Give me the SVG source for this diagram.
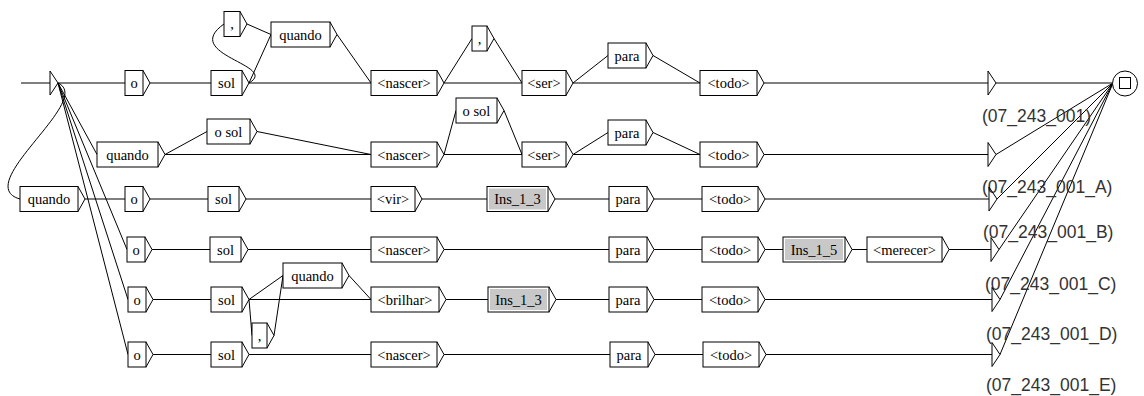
<svg xmlns="http://www.w3.org/2000/svg" width="1144" height="396" viewBox="0 0 1144 396">
<style>
.b rect{fill:#fff;stroke:#000;stroke-width:1}
.b rect.g{fill:#c8c8c8;stroke:none}
.b path,.st path{fill:none;stroke:#000;stroke-width:1}
.b text{font-family:"Liberation Serif",serif;font-size:14.5px;text-anchor:middle;fill:#000}
.o path{fill:none;stroke:#000;stroke-width:1}
.o text{font-family:"Liberation Sans",Arial,sans-serif;font-size:17.5px;fill:#333}
#connectors path{fill:none;stroke:#000;stroke-width:1}
</style>
<rect width="1144" height="396" fill="#fff"/>
<g id="connectors">
<path d="M58,83 L125,83"/>
<path d="M58,83 L97,154.5"/>
<path d="M58,83 C95,100 -30,185 20,199"/>
<path d="M58,83 L127,249.5"/>
<path d="M58,83 L128,299.5"/>
<path d="M58,83 L128,354.5"/>
<path d="M150,83 L211,83"/>
<path d="M249,83 L371,83"/>
<path d="M249,83 L271,34.5"/>
<path d="M249,83 C280,65 180,55 224,24"/>
<path d="M247,24 L271,34.5"/>
<path d="M337,34.5 L371,83"/>
<path d="M444,83 L472,38.5"/>
<path d="M444,83 L522,83"/>
<path d="M494,38.5 L522,83"/>
<path d="M573,83 L608,55.5"/>
<path d="M573,83 L700,83"/>
<path d="M653,55.5 L700,83"/>
<path d="M764,83 L988,83"/>
<path d="M996,83 L1113,83"/>
<path d="M165,154.5 L207,131.5"/>
<path d="M165,154.5 L371,154.5"/>
<path d="M257,131.5 L371,154.5"/>
<path d="M444,154.5 L456,110.5"/>
<path d="M444,154.5 L522,154.5"/>
<path d="M504,110.5 L522,154.5"/>
<path d="M573,154.5 L608,132.5"/>
<path d="M573,154.5 L700,154.5"/>
<path d="M653,132.5 L700,154.5"/>
<path d="M764,154.5 L988,154.5"/>
<path d="M996,154.5 L1113,83"/>
<path d="M85,199 L125,199"/>
<path d="M150,199 L208,199"/>
<path d="M246,199 L371,199"/>
<path d="M422,199 L487,199"/>
<path d="M555,199 L609,199"/>
<path d="M654,199 L702,199"/>
<path d="M765,199 L989,199"/>
<path d="M997,199 L1113,83"/>
<path d="M152,249.5 L210,249.5"/>
<path d="M248,249.5 L371,249.5"/>
<path d="M444,249.5 L609,249.5"/>
<path d="M654,249.5 L702,249.5"/>
<path d="M765,249.5 L783,249.5"/>
<path d="M852,249.5 L867,249.5"/>
<path d="M949,249.5 L991,249.5"/>
<path d="M999,249.5 L1113,83"/>
<path d="M153,299.5 L211,299.5"/>
<path d="M249,299.5 L371,299.5"/>
<path d="M249,299.5 L283,275.5"/>
<path d="M249,299.5 L252,335.5"/>
<path d="M274,335.5 L283,275.5"/>
<path d="M349,275.5 L371,299.5"/>
<path d="M446,299.5 L488,299.5"/>
<path d="M556,299.5 L609,299.5"/>
<path d="M654,299.5 L702,299.5"/>
<path d="M765,299.5 L992,299.5"/>
<path d="M1000,299.5 L1113,83"/>
<path d="M153,354.5 L211,354.5"/>
<path d="M249,354.5 L371,354.5"/>
<path d="M444,354.5 L610,354.5"/>
<path d="M655,354.5 L703,354.5"/>
<path d="M766,354.5 L992,354.5"/>
<path d="M1000,354.5 L1113,83"/>
</g>
<g id="initial" class="st"><path d="M21,83 L50,83 M50,71 L58,83 L50,95 Z"/></g>
<g id="final" class="st"><circle cx="1125" cy="83.5" r="12.5" fill="#fff" stroke="#000"/><rect x="1119.5" y="77.5" width="11" height="11" fill="none" stroke="#000"/></g>

<g id="r1_o" class="b"><rect x="125" y="70.5" width="18" height="25"/><path d="M143,70.5 L150,83 L143,95.5"/><text x="134" y="88">o</text></g>
<g id="r1_sol" class="b"><rect x="211" y="70.5" width="31" height="25"/><path d="M242,70.5 L249,83 L242,95.5"/><text x="226.5" y="88">sol</text></g>
<g id="r1_comma" class="b"><rect x="224" y="11.5" width="16" height="25"/><path d="M240,11.5 L247,24 L240,36.5"/><text x="232" y="29">,</text></g>
<g id="r1_quando" class="b"><rect x="271" y="22" width="59" height="25"/><path d="M330,22 L337,34.5 L330,47"/><text x="300.5" y="39.5">quando</text></g>
<g id="r1_nascer" class="b"><rect x="371" y="70.5" width="66" height="25"/><path d="M437,70.5 L444,83 L437,95.5"/><text x="404" y="88">&lt;nascer&gt;</text></g>
<g id="r1_comma2" class="b"><rect x="472" y="26" width="15" height="25"/><path d="M487,26 L494,38.5 L487,51"/><text x="479.5" y="43.5">,</text></g>
<g id="r1_ser" class="b"><rect x="522" y="70.5" width="44" height="25"/><path d="M566,70.5 L573,83 L566,95.5"/><text x="544" y="88">&lt;ser&gt;</text></g>
<g id="r1_para" class="b"><rect x="608" y="43" width="38" height="25"/><path d="M646,43 L653,55.5 L646,68"/><text x="627" y="60.5">para</text></g>
<g id="r1_todo" class="b"><rect x="700" y="70.5" width="57" height="25"/><path d="M757,70.5 L764,83 L757,95.5"/><text x="728.5" y="88">&lt;todo&gt;</text></g>
<g id="r1_out" class="o"><path d="M988,71 L996,83 L988,95 Z"/><text x="982" y="122">(07_243_001)</text></g>

<g id="r2_quando" class="b"><rect x="97" y="142" width="61" height="25"/><path d="M158,142 L165,154.5 L158,167"/><text x="127.5" y="159.5">quando</text></g>
<g id="r2_osol" class="b"><rect x="207" y="119" width="43" height="25"/><path d="M250,119 L257,131.5 L250,144"/><text x="228.5" y="136.5">o sol</text></g>
<g id="r2_nascer" class="b"><rect x="371" y="142" width="66" height="25"/><path d="M437,142 L444,154.5 L437,167"/><text x="404" y="159.5">&lt;nascer&gt;</text></g>
<g id="r2_osol2" class="b"><rect x="456" y="98" width="41" height="25"/><path d="M497,98 L504,110.5 L497,123"/><text x="476.5" y="115.5">o sol</text></g>
<g id="r2_ser" class="b"><rect x="522" y="142" width="44" height="25"/><path d="M566,142 L573,154.5 L566,167"/><text x="544" y="159.5">&lt;ser&gt;</text></g>
<g id="r2_para" class="b"><rect x="608" y="120" width="38" height="25"/><path d="M646,120 L653,132.5 L646,145"/><text x="627" y="137.5">para</text></g>
<g id="r2_todo" class="b"><rect x="700" y="142" width="57" height="25"/><path d="M757,142 L764,154.5 L757,167"/><text x="728.5" y="159.5">&lt;todo&gt;</text></g>
<g id="r2_out" class="o"><path d="M988,142.5 L996,154.5 L988,166.5 Z"/><text x="982" y="193">(07_243_001_A)</text></g>

<g id="r3_quando" class="b"><rect x="20" y="186.5" width="58" height="25"/><path d="M78,186.5 L85,199 L78,211.5"/><text x="49" y="204">quando</text></g>
<g id="r3_o" class="b"><rect x="125" y="186.5" width="18" height="25"/><path d="M143,186.5 L150,199 L143,211.5"/><text x="134" y="204">o</text></g>
<g id="r3_sol" class="b"><rect x="208" y="186.5" width="31" height="25"/><path d="M239,186.5 L246,199 L239,211.5"/><text x="223.5" y="204">sol</text></g>
<g id="r3_vir" class="b"><rect x="371" y="186.5" width="44" height="25"/><path d="M415,186.5 L422,199 L415,211.5"/><text x="393" y="204">&lt;vir&gt;</text></g>
<g id="r3_ins" class="b"><rect x="487" y="186.5" width="61" height="25"/><rect class="g" x="489" y="188.5" width="57" height="21"/><path d="M548,186.5 L555,199 L548,211.5"/><text x="517.5" y="204">Ins_1_3</text></g>
<g id="r3_para" class="b"><rect x="609" y="186.5" width="38" height="25"/><path d="M647,186.5 L654,199 L647,211.5"/><text x="628" y="204">para</text></g>
<g id="r3_todo" class="b"><rect x="702" y="186.5" width="56" height="25"/><path d="M758,186.5 L765,199 L758,211.5"/><text x="730" y="204">&lt;todo&gt;</text></g>
<g id="r3_out" class="o"><path d="M989,187 L997,199 L989,211 Z"/><text x="983" y="238">(07_243_001_B)</text></g>

<g id="r4_o" class="b"><rect x="127" y="237" width="18" height="25"/><path d="M145,237 L152,249.5 L145,262"/><text x="136" y="254.5">o</text></g>
<g id="r4_sol" class="b"><rect x="210" y="237" width="31" height="25"/><path d="M241,237 L248,249.5 L241,262"/><text x="225.5" y="254.5">sol</text></g>
<g id="r4_nascer" class="b"><rect x="371" y="237" width="66" height="25"/><path d="M437,237 L444,249.5 L437,262"/><text x="404" y="254.5">&lt;nascer&gt;</text></g>
<g id="r4_para" class="b"><rect x="609" y="237" width="38" height="25"/><path d="M647,237 L654,249.5 L647,262"/><text x="628" y="254.5">para</text></g>
<g id="r4_todo" class="b"><rect x="702" y="237" width="56" height="25"/><path d="M758,237 L765,249.5 L758,262"/><text x="730" y="254.5">&lt;todo&gt;</text></g>
<g id="r4_ins" class="b"><rect x="783" y="237" width="62" height="25"/><rect class="g" x="785" y="239" width="58" height="21"/><path d="M845,237 L852,249.5 L845,262"/><text x="814" y="254.5">Ins_1_5</text></g>
<g id="r4_merecer" class="b"><rect x="867" y="237" width="75" height="25"/><path d="M942,237 L949,249.5 L942,262"/><text x="904.5" y="254.5">&lt;merecer&gt;</text></g>
<g id="r4_out" class="o"><path d="M991,237.5 L999,249.5 L991,261.5 Z"/><text x="985" y="290">(07_243_001_C)</text></g>

<g id="r5_o" class="b"><rect x="128" y="287" width="18" height="25"/><path d="M146,287 L153,299.5 L146,312"/><text x="137" y="304.5">o</text></g>
<g id="r5_sol" class="b"><rect x="211" y="287" width="31" height="25"/><path d="M242,287 L249,299.5 L242,312"/><text x="226.5" y="304.5">sol</text></g>
<g id="r5_quando" class="b"><rect x="283" y="263" width="59" height="25"/><path d="M342,263 L349,275.5 L342,288"/><text x="312.5" y="280.5">quando</text></g>
<g id="r5_comma" class="b"><rect x="252" y="323" width="15" height="25"/><path d="M267,323 L274,335.5 L267,348"/><text x="259.5" y="340.5">,</text></g>
<g id="r5_brilhar" class="b"><rect x="371" y="287" width="68" height="25"/><path d="M439,287 L446,299.5 L439,312"/><text x="405" y="304.5">&lt;brilhar&gt;</text></g>
<g id="r5_ins" class="b"><rect x="488" y="287" width="61" height="25"/><rect class="g" x="490" y="289" width="57" height="21"/><path d="M549,287 L556,299.5 L549,312"/><text x="518.5" y="304.5">Ins_1_3</text></g>
<g id="r5_para" class="b"><rect x="609" y="287" width="38" height="25"/><path d="M647,287 L654,299.5 L647,312"/><text x="628" y="304.5">para</text></g>
<g id="r5_todo" class="b"><rect x="702" y="287" width="56" height="25"/><path d="M758,287 L765,299.5 L758,312"/><text x="730" y="304.5">&lt;todo&gt;</text></g>
<g id="r5_out" class="o"><path d="M992,287.5 L1000,299.5 L992,311.5 Z"/><text x="986" y="340">(07_243_001_D)</text></g>

<g id="r6_o" class="b"><rect x="128" y="342" width="18" height="25"/><path d="M146,342 L153,354.5 L146,367"/><text x="137" y="359.5">o</text></g>
<g id="r6_sol" class="b"><rect x="211" y="342" width="31" height="25"/><path d="M242,342 L249,354.5 L242,367"/><text x="226.5" y="359.5">sol</text></g>
<g id="r6_nascer" class="b"><rect x="371" y="342" width="66" height="25"/><path d="M437,342 L444,354.5 L437,367"/><text x="404" y="359.5">&lt;nascer&gt;</text></g>
<g id="r6_para" class="b"><rect x="610" y="342" width="38" height="25"/><path d="M648,342 L655,354.5 L648,367"/><text x="629" y="359.5">para</text></g>
<g id="r6_todo" class="b"><rect x="703" y="342" width="56" height="25"/><path d="M759,342 L766,354.5 L759,367"/><text x="731" y="359.5">&lt;todo&gt;</text></g>
<g id="r6_out" class="o"><path d="M992,342.5 L1000,354.5 L992,366.5 Z"/><text x="986" y="391">(07_243_001_E)</text></g>
</svg>
